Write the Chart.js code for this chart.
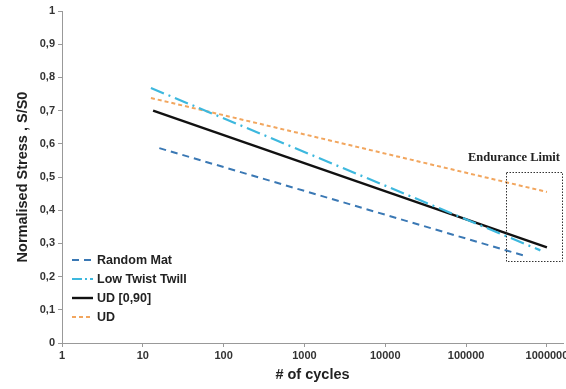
<!DOCTYPE html>
<html lang="en">
<head>
<meta charset="UTF-8">
<title>Normalised Stress vs Cycles</title>
<script src="https://cdn.jsdelivr.net/npm/chart.js"></script>
<style>
    html, body { margin: 0; padding: 0; background: #fff; }
    #wrap { width: 566px; height: 389px; }
</style>
</head>
<body>
<div id="wrap"><canvas id="grafico"></canvas></div>
<script>
// S-N fit lines (start and end point of each)
const seriesNames = ["Random Mat", "Low Twist Twill", "UD [0,90]", "UD"];
const randomMatCycles = [16, 540000];
const randomMatStress = [0.587, 0.262];
const twillCycles = [12.6, 830000];
const twillStress = [0.768, 0.279];
const ud090Cycles = [13.4, 1000000];
const ud090Stress = [0.700, 0.288];
const udCycles = [12.6, 1000000];
const udStress = [0.738, 0.455];

const xTicks = [1, 10, 100, 1000, 10000, 100000, 1000000];
const yTicks = [0, 0.1, 0.2, 0.3, 0.4, 0.5, 0.6, 0.7, 0.8, 0.9, 1];

// endurance limit region
const enduranceCycles = [313000, 1580000];
const enduranceStress = [0.247, 0.515];

function pts(xs, ys) { return xs.map((x, i) => ({ x: x, y: ys[i] })); }

const estilos = [
    { color: "#3A78B4", dash: [7, 5], width: 2 },
    { color: "#3DB8DE", dash: [14, 5, 2, 5], width: 2.2 },
    { color: "#111111", dash: [], width: 2.4 },
    { color: "#F2A65E", dash: [4, 3], width: 2 }
];
const dados = [
    pts(randomMatCycles, randomMatStress),
    pts(twillCycles, twillStress),
    pts(ud090Cycles, ud090Stress),
    pts(udCycles, udStress)
];

const extras = {
    id: "extras",
    afterDatasetsDraw(chart) {
        const ctx = chart.ctx;
        const xs = chart.scales.x, ys = chart.scales.y;
        // dotted box
        const l = xs.getPixelForValue(enduranceCycles[0]);
        const r = xs.getPixelForValue(enduranceCycles[1]);
        const t = ys.getPixelForValue(enduranceStress[1]);
        const b = ys.getPixelForValue(enduranceStress[0]);
        ctx.save();
        ctx.strokeStyle = "#333";
        ctx.lineWidth = 1;
        ctx.setLineDash([1.5, 1.5]);
        ctx.strokeRect(Math.round(l) + 0.5, Math.round(t) + 0.5, Math.round(r - l) - 1, Math.round(b - t));
        ctx.setLineDash([]);
        ctx.fillStyle = "#222";
        ctx.font = "bold 12.5px 'Liberation Serif', 'DejaVu Serif', serif";
        ctx.textAlign = "right";
        ctx.textBaseline = "bottom";
        ctx.fillText("Endurance Limit", r - 3, t - 8);

        // legend in the lower left
        ctx.font = "bold 12.5px 'Liberation Sans', Arial, sans-serif";
        ctx.textAlign = "left";
        ctx.textBaseline = "middle";
        const x0 = 72;
        let y0 = 260;
        seriesNames.forEach((nome, i) => {
            const e = estilos[i];
            ctx.strokeStyle = e.color;
            ctx.lineWidth = e.width;
            ctx.setLineDash(i === 1 ? [10, 3, 2, 3] : e.dash);
            ctx.beginPath();
            ctx.moveTo(x0, y0);
            ctx.lineTo(x0 + 21, y0);
            ctx.stroke();
            ctx.setLineDash([]);
            ctx.fillStyle = "#222";
            ctx.fillText(nome, x0 + 25, y0 + 1);
            y0 += 19;
        });
        ctx.restore();
    }
};

const fonteTick = { family: "'Liberation Sans', Arial, sans-serif", size: 11, weight: "bold" };
const fonteTitulo = { family: "'Liberation Sans', Arial, sans-serif", size: 14.5, weight: "bold" };

new Chart(document.getElementById("grafico"), {
    type: "scatter",
    data: {
        datasets: dados.map((d, i) => ({
            label: seriesNames[i],
            data: d,
            showLine: true,
            borderColor: estilos[i].color,
            borderWidth: estilos[i].width,
            borderDash: estilos[i].dash,
            pointRadius: 0,
            fill: false
        }))
    },
    options: {
        responsive: true,
        maintainAspectRatio: false,
        animation: false,
        layout: { padding: { top: 11, right: 3, left: 14, bottom: 0 } },
        plugins: { legend: { display: false }, tooltip: { enabled: false } },
        scales: {
            x: {
                type: "logarithmic",
                min: 1,
                max: 1580000,
                afterBuildTicks(scale) { scale.ticks = xTicks.map(v => ({ value: v })); },
                afterFit(scale) {
                    scale.height = 46;
                    scale.paddingRight = 0;
                    scale.paddingLeft = 0;
                },
                ticks: {
                    color: "#333",
                    font: fonteTick,
                    padding: 2,
                    maxRotation: 0,
                    autoSkip: false,
                    callback: v => String(v)
                },
                grid: { drawOnChartArea: false, drawTicks: true, tickLength: 4, color: "#999" },
                border: { color: "#999", width: 1 },
                title: {
                    display: true,
                    text: "# of cycles",
                    color: "#222",
                    font: fonteTitulo,
                    padding: { top: 2, bottom: 5 }
                }
            },
            y: {
                min: 0,
                max: 1,
                afterBuildTicks(scale) { scale.ticks = yTicks.map(v => ({ value: v })); },
                afterFit(scale) { scale.width = 48; },
                ticks: {
                    color: "#333",
                    font: fonteTick,
                    padding: 3,
                    callback: v => v === 0 || v === 1 ? String(v) : v.toFixed(1).replace(".", ",")
                },
                grid: { drawOnChartArea: false, drawTicks: true, tickLength: 4, color: "#999" },
                border: { color: "#999", width: 1 },
                title: {
                    display: true,
                    text: "Normalised Stress , S/S0",
                    color: "#222",
                    font: fonteTitulo,
                    padding: { top: 0, bottom: 7 }
                }
            }
        }
    },
    plugins: [extras]
});
</script>
</body>
</html>
